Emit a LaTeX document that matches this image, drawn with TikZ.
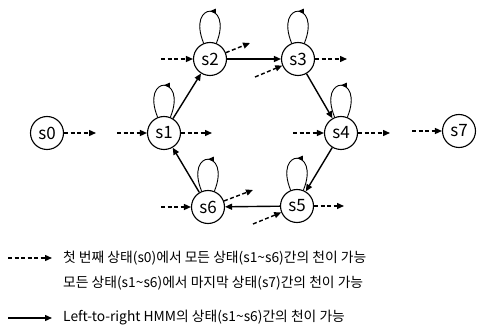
\documentclass[tikz,border=0pt]{standalone}
\usepackage{fontspec}
\setmainfont{Noto Sans CJK KR}
\usetikzlibrary{arrows.meta,decorations.markings}

\tikzset{
  hmmstate/.style={draw, circle, line width=1.1pt, minimum size=33pt, inner sep=0pt,
    font=\fontsize{17}{17}\selectfont},
  trans/.style={line width=1.4pt, -{Triangle[length=7pt,width=6pt]}},
  dtrans/.style={trans, dash pattern=on 4pt off 2.5pt},
  selfloop/.style={line width=0.9pt, out=68, in=112, min distance=46pt, postaction={decorate},
    decoration={markings, mark=at position 0.5 with {\arrow{Triangle[length=6pt,width=5pt]}}}},
  legend/.style={anchor=west, inner sep=0pt, font=\fontsize{13.8}{16}\selectfont},
}

\begin{document}
\begin{tikzpicture}[x=1pt, y=-1pt]
    \useasboundingbox (0,0) rectangle (477,326);
    % Definitions:
    \node[hmmstate] (s0) at (47,133) {s0};
    \node[hmmstate] (s1) at (164,133) {s1};
    \node[hmmstate] (s2) at (210,59) {s2};
    \node[hmmstate] (s3) at (298,59) {s3};
    \node[hmmstate] (s4) at (341,133) {s4};
    \node[hmmstate] (s5) at (297,206) {s5};
    \node[hmmstate] (s6) at (208,207) {s6};
    \node[hmmstate] (s7) at (459,131) {s7};
    \coordinate (c0o) at (96,133); % free ends of the dashed arrows
    \coordinate (c1i) at (117,133);
    \coordinate (c1o) at (212,133);
    \coordinate (c2i) at (161,59);
    \coordinate (c2o) at (250,43);
    \coordinate (c3i) at (255,77);
    \coordinate (c3o) at (347,59);
    \coordinate (c4i) at (293,133);
    \coordinate (c4o) at (390,133);
    \coordinate (c5i) at (253,224);
    \coordinate (c5o) at (344,206);
    \coordinate (c6i) at (161,207);
    \coordinate (c6o) at (253,190);
    \coordinate (c7i) at (412,131);
    \coordinate (l1a) at (8,258); % legend
    \coordinate (l1b) at (52,258);
    \coordinate (l2a) at (8,318);
    \coordinate (l2b) at (52,318);
    % Drawing:
    \foreach \s in {s1,s2,s3,s4,s5,s6}
      \draw[selfloop] (\s) to (\s);
    \draw[trans] (s1) -- (s2);
    \draw[trans] (s2) -- (s3);
    \draw[trans] (s3) -- (s4);
    \draw[trans] (s4) -- (s5);
    \draw[trans] (s5) -- (s6);
    \draw[trans] (s6) -- (s1);
    \draw[dtrans] (s0) -- (c0o);
    \draw[dtrans] (c7i) -- (s7);
    \foreach \s/\i/\o in {s1/c1i/c1o, s2/c2i/c2o, s3/c3i/c3o, s4/c4i/c4o, s5/c5i/c5o, s6/c6i/c6o}{
      \draw[dtrans] (\i) -- (\s);
      \draw[dtrans] (\s) -- (\o);
    }
    \draw[dtrans] (l1a) -- (l1b);
    \draw[trans] (l2a) -- (l2b);
    % Labels:
    \node[legend] (t1) at (63,258) {첫 번째 상태(s0)에서 모든 상태(s1\textasciitilde s6)간의 천이 가능};
    \node[legend] (t2) at (63,283) {모든 상태(s1\textasciitilde s6)에서 마지막 상태(s7)간의 천이 가능};
    \node[legend] (t3) at (63,318) {Left-to-right HMM의 상태(s1\textasciitilde s6)간의 천이 가능};
  \end{tikzpicture}
\end{document}
